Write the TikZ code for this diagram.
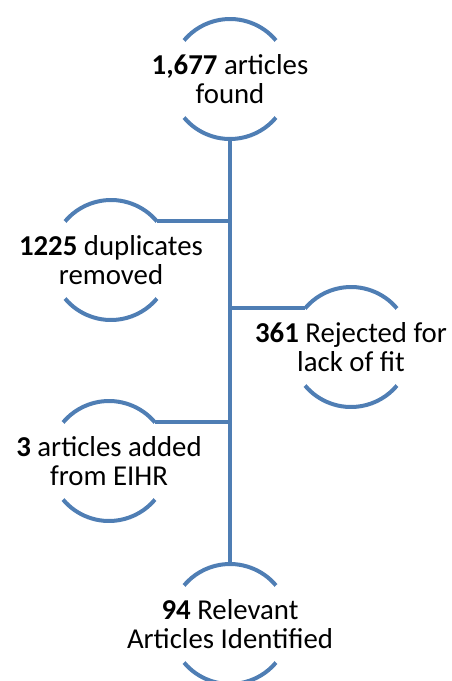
\documentclass[tikz,border=0pt]{standalone}
\usepackage{fontspec}
\setmainfont{Carlito}
\usetikzlibrary{positioning}

\begin{document}
\begin{tikzpicture}
        [
            x = 1pt, y = 1pt,
            step label/.style = {
                align=center, inner sep=0pt,
                font=\fontsize{28.8}{29.5}\selectfont},
            ring/.style = {draw=ringblue, line width=4pt},
            link/.style = {draw=ringblue, line width=4pt}
        ]
        \definecolor{ringblue}{RGB}{79,126,180}
        \useasboundingbox (0,0) rectangle (452,-681);
        % stages of the search
        \node [step label] (found) at (230,-79) {\textbf{1,677} articles\\found};
        \node [step label] (dup) at (111,-260) {\textbf{1225} duplicates\\removed};
        \node [step label] (rej) at (351,-347) {\textbf{361} Rejected for\\lack of fit};
        \node [step label] (add) at (109,-461) {\textbf{3} articles added\\from EIHR};
        \node [step label] (rel) at (230,-624) {\textbf{94} Relevant\\Articles Identified};
        % open rings round each stage
        \foreach \n in {found,dup,rej,add,rel} {
            \draw [ring] ([shift={(40:60)}]\n.center) arc [start angle=40, end angle=140, radius=60];
            \draw [ring] ([shift={(220:60)}]\n.center) arc [start angle=220, end angle=320, radius=60];
        }
        % trunk and branches
        \coordinate (trunkTop) at ([yshift=-60pt]found.center);
        \coordinate (trunkEnd) at ([yshift=60pt]rel.center);
        \coordinate (dupEnd) at ([shift={(40:60)}]dup.center);
        \coordinate (rejEnd) at ([shift={(140:60)}]rej.center);
        \coordinate (addEnd) at ([shift={(40:60)}]add.center);
        \draw [link] (trunkTop) -- (trunkEnd);
        \draw [link] (dupEnd) -- (dupEnd -| trunkTop);
        \draw [link] (rejEnd) -- (rejEnd -| trunkTop);
        \draw [link] (addEnd) -- (addEnd -| trunkTop);
    \end{tikzpicture}
\end{document}
